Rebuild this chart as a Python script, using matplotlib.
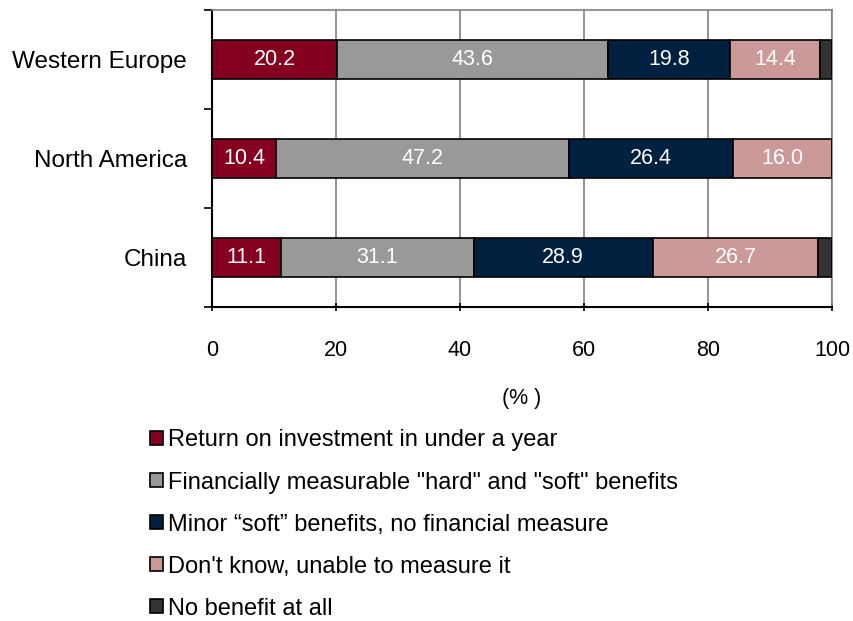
import matplotlib
matplotlib.use("Agg")
import matplotlib.pyplot as plt
import numpy as np

plt.rcParams['font.family'] = ['Liberation Sans', 'DejaVu Sans']

regions = ["Western Europe", "North America", "China"]
series_names = [
    "Return on investment in under a year",
    "Financially measurable \"hard\" and \"soft\" benefits",
    "Minor \u201csoft\u201d benefits, no financial measure",
    "Don't know, unable to measure it",
    "No benefit at all",
]
roi_under_year = [20.2, 10.4, 11.1]
hard_soft = [43.6, 47.2, 31.1]
minor_soft = [19.8, 26.4, 28.9]
dont_know = [14.4, 16.0, 26.7]
no_benefit = [2.0, 0.0, 2.2]
xticks = [0, 20, 40, 60, 80, 100]

colors = ["#850020", "#999999", "#002040", "#CC9999", "#333333"]
show_labels = [True, True, True, True, False]

fig = plt.figure(figsize=(8.54, 6.21), dpi=100)
ax = fig.add_axes([212 / 854, 1 - 307 / 621, 620 / 854, 297 / 621])

series = [roi_under_year, hard_soft, minor_soft, dont_know, no_benefit]
y = np.arange(len(regions))
left = np.zeros(len(regions))
handles = []
for vals, col, name, lab in zip(series, colors, series_names, show_labels):
    vals = np.array(vals)
    bars = ax.barh(y, vals, left=left, height=0.4, color=col,
                   edgecolor="black", linewidth=1.2, label=name, zorder=3)
    if lab:
        for yi, (l, v) in enumerate(zip(left, vals)):
            if v > 0:
                ax.text(l + v / 2, yi, f"{v:.1f}", ha="center", va="center",
                        color="white", fontsize=15.5, zorder=4)
    handles.append(bars)
    left = left + vals

ax.set_xlim(0, 100)
ax.set_ylim(len(regions) - 0.5, -0.5)
ax.set_xticks(xticks)
ax.set_xticklabels([str(t) for t in xticks], fontsize=15.5)
ax.set_yticks(y)
ax.set_yticklabels(regions, fontsize=17.5)
ax.tick_params(axis="y", which="major", length=0, pad=18)
ax.set_yticks([-0.5, 0.5, 1.5, 2.5], minor=True)
ax.tick_params(axis="y", which="minor", length=6, width=1.2, direction="out")
ax.tick_params(axis="x", which="major", length=6, width=1.2, direction="inout", pad=21)

ax.grid(axis="x", color="#808080", linewidth=1.2, zorder=0)
ax.set_axisbelow(True)
for s in ["top", "right"]:
    ax.spines[s].set_color("#808080")
    ax.spines[s].set_linewidth(1.2)
for s in ["left", "bottom"]:
    ax.spines[s].set_color("black")
    ax.spines[s].set_linewidth(1.5)

ax.set_xlabel("(% )", fontsize=15.5, labelpad=19)

leg = fig.legend(handles=handles, labels=series_names, loc="upper left",
                 bbox_to_anchor=(141 / 854, 1 - 420 / 621), frameon=False,
                 fontsize=17, handlelength=0.55, handleheight=0.55,
                 handletextpad=0.2, labelspacing=0.85, borderaxespad=0)

fig.savefig("out.png", dpi=100)
